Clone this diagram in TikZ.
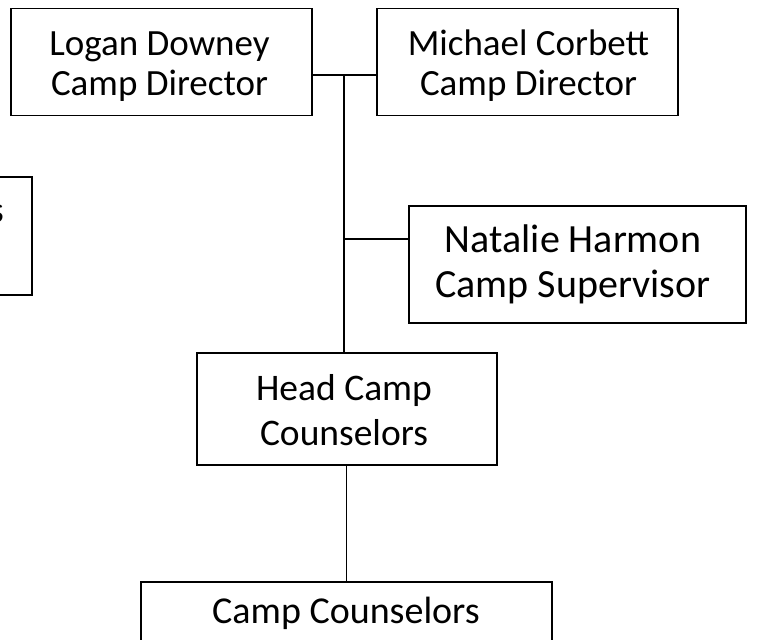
\documentclass[tikz,border=0pt]{standalone}
\usepackage{fontspec}
\setmainfont{Carlito}
\begin{document}
\begin{tikzpicture}[x=1pt,y=-1pt,
  box/.style={draw=black,line width=1.5pt,rectangle,inner sep=0pt},
  txt/.style={anchor=base,inner sep=0pt,font=\fontsize{37}{40}\selectfont},
  big/.style={font=\fontsize{40}{45}\selectfont},
  conn/.style={draw=black,line width=1.2pt}]
\useasboundingbox (0,0) rectangle (764,640);
\clip (0,0) rectangle (764,640);
% boxes
\node[box,minimum width=301pt,minimum height=107pt] (logan) at (161.5,62) {};
\node[box,minimum width=301pt,minimum height=107pt] (michael) at (527.5,62) {};
\node[box,minimum width=337pt,minimum height=117pt] (natalie) at (577.5,264.5) {};
\node[box,minimum width=300pt,minimum height=112pt] (head) at (347,409) {};
\node[box,minimum width=411pt,minimum height=70pt] (cc) at (346.5,617) {};
\node[box,minimum width=332pt,minimum height=118pt] (left) at (-134,236) {};
% texts
\node[txt] (logan1) at (159.5,55) {Logan Downey};
\node[txt] (logan2) at (159.5,95) {Camp Director};
\node[txt] (michael1) at (528.5,55) {Michael Corbett};
\node[txt] (michael2) at (528.5,95) {Camp Director};
\node[txt,big] (natalie1) at (573,252) {Natalie Harmon};
\node[txt,big] (natalie2) at (573,297) {Camp Supervisor};
\node[txt,font=\fontsize{37.5}{45}\selectfont] (head1) at (344,400) {Head Camp};
\node[txt,font=\fontsize{37.5}{45}\selectfont] (head2) at (344,445) {Counselors};
\node[txt,font=\fontsize{38}{45}\selectfont] (cc1) at (346,623) {Camp Counselors};
\node[txt,anchor=base east] (lefttext) at (4,222) {s};
% connectors
\coordinate (j) at (344,75);
\coordinate (k) at (344,239);
\draw[conn] (logan.east |- j) -- (michael.west |- j);
\draw[conn] (j) -- (head.north -| j);
\draw[conn] (k) -- (natalie.west |- k);
\draw[conn] (head.south -| cc.north) -- (cc.north);
\end{tikzpicture}
\end{document}
